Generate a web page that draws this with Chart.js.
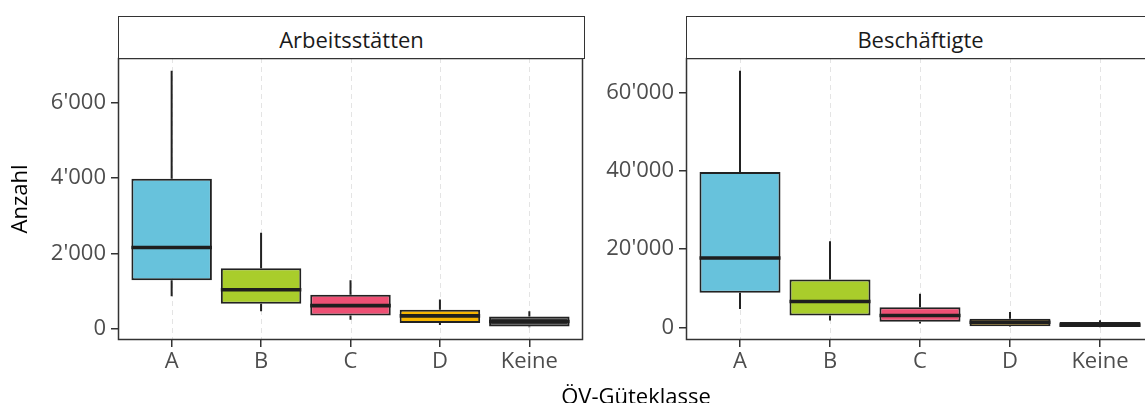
<!DOCTYPE html>
<html>
<head>
<meta charset="utf-8">
<script src="https://cdn.jsdelivr.net/npm/chart.js@4.4.1/dist/chart.umd.min.js"></script>
<style>
  html, body { margin: 0; padding: 0; background: #fff; }
  body { width: 1145px; height: 403px; overflow: hidden; position: relative; font-family: "Open Sans", sans-serif; }
  canvas { position: absolute; top: 0; }
  .strip {
    position: absolute; top: 16px; height: 43px; box-sizing: border-box;
    border: 1.5px solid #333; background: #fff;
    display: flex; align-items: center; justify-content: center;
    padding-top: 3px;
    font-size: 22px; color: #1a1a1a;
  }
  #xtitle { position: absolute; top: 380px; left: 0; width: 1272px; text-align: center; font-size: 22px; color: #000; }
</style>
</head>
<body>
<canvas id="left" width="600" height="403" style="left:0"></canvas>
<canvas id="right" width="600" height="403" style="left:600px"></canvas>
<div class="strip" style="left:118px;width:467px">Arbeitsstätten</div>
<div class="strip" style="left:686px;width:469px">Beschäftigte</div>
<div id="xtitle">ÖV-Güteklasse</div>
<script>
// ÖV-Güteklassen on the x axis
const categories = ['A', 'B', 'C', 'D', 'Keine'];
const fillColors = ['#67c2dc', '#a9cd2b', '#ee5074', '#f5b400', '#3d3d3d'];

// Arbeitsstätten: whisker ends, quartiles and median per class
const arbMin = [870, 470, 250, 110, 50];
const arbQ1  = [1290, 670, 360, 160, 70];
const arbMed = [2160, 1040, 620, 350, 200];
const arbQ3  = [3980, 1610, 910, 510, 330];
const arbMax = [6840, 2550, 1290, 780, 470];
const arbTicks = [0, 2000, 4000, 6000];

// Beschäftigte: whisker ends, quartiles and median per class
const besMin = [4700, 1700, 950, 100, 20];
const besQ1  = [8800, 3000, 1400, 260, 150];
const besMed = [17700, 6600, 3000, 1300, 550];
const besQ3  = [39700, 12200, 5100, 2200, 1350];
const besMax = [65600, 22000, 8600, 3900, 1800];
const besTicks = [0, 20000, 40000, 60000];

Chart.defaults.font.family = "'Open Sans', sans-serif";
Chart.defaults.font.size = 22;

function fmt(v) {
  return String(v).replace(/\B(?=(\d{3})+(?!\d))/g, "'");
}

// Draws grid, whiskers, medians and the panel frame around the floating bars
function boxParts(stats) {
  return {
    id: 'boxParts',
    beforeDatasetsDraw(chart) {
      const { ctx, chartArea: a, scales: { x, y } } = chart;
      ctx.save();
      ctx.beginPath();
      ctx.strokeStyle = '#e4e4e4';
      ctx.lineWidth = 1;
      ctx.setLineDash([5, 4]);
      categories.forEach((c, i) => {
        const px = Math.round(x.getPixelForValue(i)) + 0.5;
        ctx.moveTo(px, a.top);
        ctx.lineTo(px, a.bottom);
      });
      ctx.stroke();
      ctx.setLineDash([]);
      ctx.beginPath();
      ctx.strokeStyle = '#222';
      ctx.lineWidth = 2;
      categories.forEach((c, i) => {
        const px = x.getPixelForValue(i);
        ctx.moveTo(px, y.getPixelForValue(stats.max[i]));
        ctx.lineTo(px, y.getPixelForValue(stats.q3[i]));
        ctx.moveTo(px, y.getPixelForValue(stats.q1[i]));
        ctx.lineTo(px, y.getPixelForValue(stats.min[i]));
      });
      ctx.stroke();
      ctx.restore();
    },
    afterDatasetsDraw(chart) {
      const { ctx, scales: { y } } = chart;
      const meta = chart.getDatasetMeta(0);
      ctx.save();
      ctx.beginPath();
      ctx.strokeStyle = '#1e1e1e';
      ctx.lineWidth = 3.6;
      meta.data.forEach((bar, i) => {
        const py = y.getPixelForValue(stats.med[i]);
        ctx.moveTo(bar.x - bar.width / 2, py);
        ctx.lineTo(bar.x + bar.width / 2, py);
      });
      ctx.stroke();
      ctx.restore();
    },
    afterDraw(chart) {
      const { ctx, chartArea: a } = chart;
      ctx.save();
      ctx.strokeStyle = '#333';
      ctx.lineWidth = 1.5;
      ctx.strokeRect(a.left + 0.5, a.top + 0.5, a.right - a.left - 1, a.bottom - a.top - 1);
      ctx.restore();
    }
  };
}

function makePanel(id, stats, yTicks, axisWidth, padRight, yTitle) {
  const lo = Math.min(...stats.min), hi = Math.max(...stats.max);
  const pad = (hi - lo) * 0.05;
  return new Chart(document.getElementById(id), {
    type: 'bar',
    data: {
      datasets: [{
        data: categories.map((c, i) => ({ x: i, y: [stats.q1[i], stats.q3[i]] })),
        backgroundColor: fillColors,
        borderColor: '#222',
        borderWidth: 2,
        borderSkipped: false,
        categoryPercentage: 0.9,
        barPercentage: 1
      }]
    },
    options: {
      responsive: false,
      animation: false,
      layout: { padding: { top: 58, right: padRight, bottom: 0, left: 0 } },
      plugins: { legend: { display: false }, tooltip: { enabled: false } },
      scales: {
        x: {
          type: 'linear',
          min: -0.6, max: 4.6,
          offset: false,
          afterBuildTicks: s => { s.ticks = categories.map((c, i) => ({ value: i })); },
          afterFit: s => { s.height = 63; },
          ticks: {
            autoSkip: false, maxRotation: 0, padding: 2, color: '#4d4d4d',
            callback: v => categories[Math.round(v)]
          },
          grid: { drawOnChartArea: false, offset: false, tickLength: 7, color: '#333', lineWidth: 1.5 },
          border: { display: false }
        },
        y: {
          type: 'linear',
          min: lo - pad, max: hi + pad,
          beginAtZero: false,
          afterBuildTicks: s => { s.ticks = yTicks.map(v => ({ value: v })); },
          afterFit: s => { s.width = axisWidth; },
          ticks: { padding: 5, color: '#4d4d4d', callback: v => fmt(v) },
          grid: { drawOnChartArea: false, tickLength: 7, color: '#333', lineWidth: 1.5 },
          border: { display: false },
          title: yTitle ? { display: true, text: yTitle, color: '#000', padding: { top: 8, bottom: 0 } } : { display: false }
        }
      }
    },
    plugins: [boxParts(stats)]
  });
}

makePanel('left', { min: arbMin, q1: arbQ1, med: arbMed, q3: arbQ3, max: arbMax }, arbTicks, 118, 17, 'Anzahl');
makePanel('right', { min: besMin, q1: besQ1, med: besMed, q3: besQ3, max: besMax }, besTicks, 86, 46, null);
</script>
</body>
</html>
